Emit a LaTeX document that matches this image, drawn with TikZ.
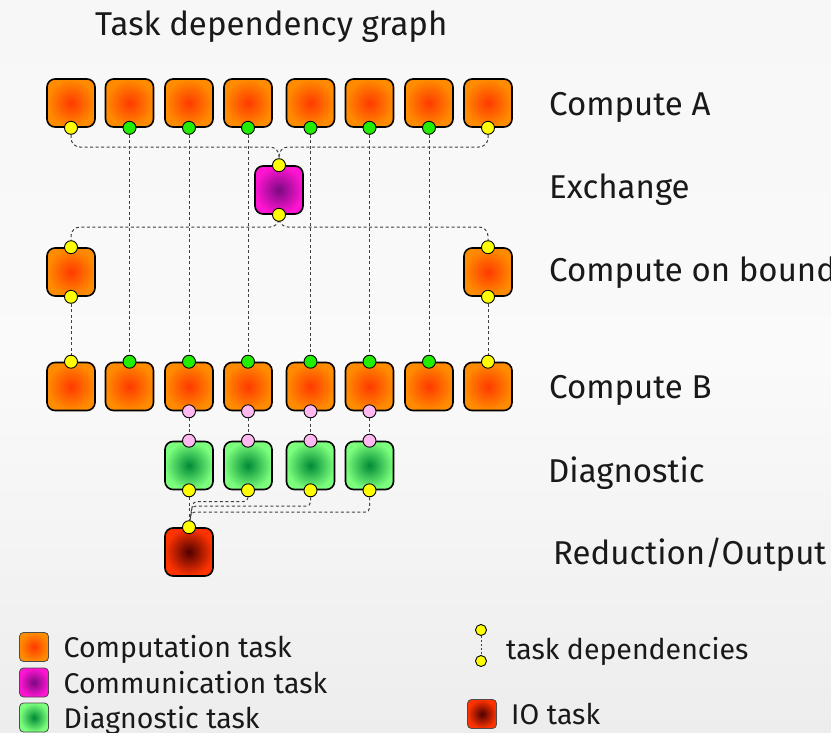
\documentclass[tikz,border=0pt]{standalone}
\usepackage{fontspec}
\setmainfont{Fira Sans}
\definecolor{ored}{HTML}{FF3A00}
\definecolor{oorange}{HTML}{FF8C00}
\definecolor{mpurple}{HTML}{7A0A80}
\definecolor{mmagenta}{HTML}{FF14D2}
\definecolor{gdark}{HTML}{008A36}
\definecolor{glight}{HTML}{7CFF7C}
\definecolor{rdark}{HTML}{500000}
\definecolor{rlight}{HTML}{FF3300}
\definecolor{pyellow}{HTML}{FFFF00}
\definecolor{pgreen}{HTML}{22EE00}
\definecolor{ppink}{HTML}{FFB8F0}
\definecolor{bgtop}{HTML}{F7F7F7}
\definecolor{bgbot}{HTML}{EDEDED}
\pgfdeclarelayer{back}
\pgfdeclarelayer{lines}
\pgfsetlayers{back,lines,main}
\begin{document}
\begin{tikzpicture}[x=1pt,y=-1pt,
 task/.style={rectangle,rounded corners=8pt,minimum width=48pt,minimum height=48pt,draw=black,line width=1.6pt,inner sep=0pt},
 comp/.style={task,inner color=ored,outer color=oorange},
 comm/.style={task,inner color=mpurple,outer color=mmagenta},
 diag/.style={task,inner color=gdark,outer color=glight},
 iotask/.style={task,inner color=rdark,outer color=rlight},
 port/.style={circle,draw=black,line width=0.9pt,minimum size=13pt,inner sep=0pt},
 yport/.style={port,fill=pyellow},
 gport/.style={port,fill=pgreen},
 pport/.style={port,fill=ppink},
 dep/.style={draw=black!75,dash pattern=on 3pt off 2.5pt,line width=1pt,rounded corners=9pt},
 lbl/.style={anchor=base west,font=\fontsize{33}{40}\selectfont,text=black!90,inner sep=0pt},
 leg/.style={anchor=base west,font=\fontsize{28.5}{32}\selectfont,text=black!90,inner sep=0pt},
 legbox/.style={rectangle,rounded corners=4pt,minimum width=29pt,minimum height=29pt,inner sep=0pt,line width=0.8pt}
]
\begin{pgfonlayer}{back}
\fill[top color=bgtop,bottom color=bgbot,middle color=white!98!black] (0,0) rectangle (831,732);
\end{pgfonlayer}
\useasboundingbox (0,0) rectangle (831,732);

% Compute A
\node[comp] (a1) at (71,103) {};
\node[comp] (a2) at (129.5,103) {};
\node[comp] (a3) at (189,103) {};
\node[comp] (a4) at (248,103) {};
\node[comp] (a5) at (310.5,103) {};
\node[comp] (a6) at (369.5,103) {};
\node[comp] (a7) at (429,103) {};
\node[comp] (a8) at (488,103) {};
\node[yport] (ap1) at (a1.south) {};
\node[gport] (ap2) at (a2.south) {};
\node[gport] (ap3) at (a3.south) {};
\node[gport] (ap4) at (a4.south) {};
\node[gport] (ap5) at (a5.south) {};
\node[gport] (ap6) at (a6.south) {};
\node[gport] (ap7) at (a7.south) {};
\node[yport] (ap8) at (a8.south) {};

% Exchange
\node[comm] (ex) at (279,190) {};
\node[yport] (exi) at (ex.north) {};
\node[yport] (exo) at (ex.south) {};

% Compute on boundary
\node[comp] (bl) at (71,272) {};
\node[comp] (br) at (488,272) {};
\node[yport] (bli) at (bl.north) {};
\node[yport] (blo) at (bl.south) {};
\node[yport] (bri) at (br.north) {};
\node[yport] (bro) at (br.south) {};

% Compute B
\node[comp] (c1) at (71,386.5) {};
\node[comp] (c2) at (129.5,386.5) {};
\node[comp] (c3) at (189,386.5) {};
\node[comp] (c4) at (248,386.5) {};
\node[comp] (c5) at (310.5,386.5) {};
\node[comp] (c6) at (369.5,386.5) {};
\node[comp] (c7) at (429,386.5) {};
\node[comp] (c8) at (488,386.5) {};
\node[yport] (cpi1) at (c1.north) {};
\node[gport] (cpi2) at (c2.north) {};
\node[gport] (cpi3) at (c3.north) {};
\node[gport] (cpi4) at (c4.north) {};
\node[gport] (cpi5) at (c5.north) {};
\node[gport] (cpi6) at (c6.north) {};
\node[gport] (cpi7) at (c7.north) {};
\node[yport] (cpi8) at (c8.north) {};
\node[pport] (cpo3) at (c3.south) {};
\node[pport] (cpo4) at (c4.south) {};
\node[pport] (cpo5) at (c5.south) {};
\node[pport] (cpo6) at (c6.south) {};

% Diagnostic
\node[diag] (d3) at (189,465.5) {};
\node[diag] (d4) at (248,465.5) {};
\node[diag] (d5) at (310.5,465.5) {};
\node[diag] (d6) at (369.5,465.5) {};
\node[pport] (dpi3) at (d3.north) {};
\node[pport] (dpi4) at (d4.north) {};
\node[pport] (dpi5) at (d5.north) {};
\node[pport] (dpi6) at (d6.north) {};
\node[yport] (dpo3) at (d3.south) {};
\node[yport] (dpo4) at (d4.south) {};
\node[yport] (dpo5) at (d5.south) {};
\node[yport] (dpo6) at (d6.south) {};

% Reduction / Output
\node[iotask] (r) at (189,552) {};
\node[yport] (rpi) at (r.north) {};

% routing points
\coordinate (xtop) at (279,147);
\coordinate (xbot) at (279,227);
\coordinate (m4) at (193,501.5);
\coordinate (m5) at (192,506);
\coordinate (m6) at (191,512);

\begin{pgfonlayer}{lines}
\draw[dep] (ap1) |- (xtop) -- (exi);
\draw[dep] (ap8) |- (xtop) -- (exi);
\draw[dep] (exo) -- (xbot) -| (bli);
\draw[dep] (exo) -- (xbot) -| (bri);
\draw[dep] (ap2) -- (cpi2);
\draw[dep] (ap3) -- (cpi3);
\draw[dep] (ap4) -- (cpi4);
\draw[dep] (ap5) -- (cpi5);
\draw[dep] (ap6) -- (cpi6);
\draw[dep] (ap7) -- (cpi7);
\draw[dep] (blo) -- (cpi1);
\draw[dep] (bro) -- (cpi8);
\draw[dep] (cpo3) -- (dpi3);
\draw[dep] (cpo4) -- (dpi4);
\draw[dep] (cpo5) -- (dpi5);
\draw[dep] (cpo6) -- (dpi6);
\draw[dep] (dpo3) -- (rpi);
\draw[dep,rounded corners=4pt] (dpo4) |- (m4) -- (rpi);
\draw[dep,rounded corners=4pt] (dpo5) |- (m5) -- (rpi);
\draw[dep,rounded corners=4pt] (dpo6) |- (m6) -- (rpi);
\end{pgfonlayer}

% labels
\node[lbl] (title) at (95,35) {Task dependency graph};
\node[lbl] (lA) at (549,115) {Compute A};
\node[lbl] (lX) at (549,198) {Exchange};
\node[lbl] (lBd) at (549,281) {Compute on boundary};
\node[lbl] (lB) at (549,398) {Compute B};
\node[lbl] (lD) at (548,482) {Diagnostic};
\node[lbl] (lR) at (553,564) {Reduction/Output};

% legend
\node[legbox,inner color=ored,outer color=oorange,draw=black!70] (kcomp) at (34,647) {};
\node[legbox,inner color=mpurple,outer color=mmagenta,draw=black!70] (kcomm) at (34,682.5) {};
\node[legbox,inner color=gdark,outer color=glight,draw=black!70] (kdiag) at (34,717.5) {};
\node[legbox,inner color=rdark,outer color=rlight,draw=black!70] (kio) at (482,714) {};
\node[leg] (tcomp) at (63.5,657) {Computation task};
\node[leg] (tcomm) at (63.5,693) {Communication task};
\node[leg] (tdiag) at (63.5,728) {Diagnostic task};
\node[leg] (tio) at (511,724) {IO task};
\node[yport,minimum size=11pt] (ky1) at (481,630) {};
\node[yport,minimum size=11pt] (ky2) at (481,661) {};
\begin{pgfonlayer}{lines}
\draw[dep,line width=0.6pt,dash pattern=on 2pt off 2pt] (ky1) -- (ky2);
\end{pgfonlayer}
\node[leg] (tdep) at (506,659) {task dependencies};
\end{tikzpicture}
\end{document}
